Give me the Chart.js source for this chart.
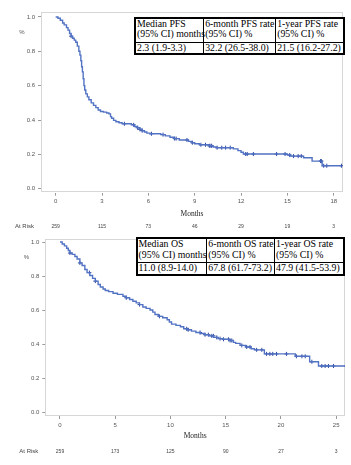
<!DOCTYPE html>
<html><head><meta charset="utf-8">
<script src="https://cdn.jsdelivr.net/npm/chart.js@4/dist/chart.umd.min.js"></script>
<style>
html,body{margin:0;padding:0;background:#fff;}
#wrap{position:relative;width:351px;height:465px;overflow:hidden;background:#fff;}
canvas{position:absolute;left:0;}
table.km{position:absolute;border-collapse:collapse;table-layout:fixed;font-family:"Liberation Serif","Times New Roman",serif;font-size:9.8px;line-height:10.5px;color:#000;background:#fff;border:2px solid #000;}
table.km td{border:1px solid #000;padding:0 0 0 1px;white-space:nowrap;overflow:visible;vertical-align:top;}
</style></head>
<body>
<div id="wrap">
  <canvas id="pfs" width="351" height="232" style="top:0"></canvas>
  <canvas id="os" width="351" height="233" style="top:232px"></canvas>
</div>
<script>
// ---------- Data ----------
const yTicks = [0, 0.2, 0.4, 0.6, 0.8, 1.0];

const pfsTicks = [0, 3, 6, 9, 12, 15, 18];
const pfsAtRisk = [259, 115, 73, 46, 29, 19, 3];
const pfsMonths = [0, 0.15, 0.3, 0.45, 0.55, 0.7, 0.8, 0.9, 1.0, 1.1, 1.2, 1.3, 1.4, 1.5, 1.57, 1.63, 1.68, 1.73, 1.78, 1.83, 1.88, 1.95, 2.05, 2.15, 2.3, 2.45, 2.6, 2.75, 2.9, 3.1, 3.3, 3.45, 3.55, 3.62, 3.75, 3.9, 4.1, 4.3, 4.9, 5.1, 5.3, 5.45, 5.6, 5.75, 5.9, 6.1, 6.8, 7.1, 7.4, 7.65, 8.0, 8.6, 8.8, 9.0, 9.3, 9.9, 10.2, 10.4, 11.5, 11.8, 12.0, 12.15, 15.0, 15.2, 16.05, 16.6, 17.25, 18.5];
const pfsSurvival = [1.0, 0.992, 0.981, 0.965, 0.954, 0.938, 0.923, 0.904, 0.888, 0.876, 0.865, 0.853, 0.83, 0.80, 0.778, 0.745, 0.71, 0.68, 0.64, 0.60, 0.575, 0.552, 0.535, 0.518, 0.50, 0.485, 0.472, 0.458, 0.450, 0.446, 0.441, 0.436, 0.42, 0.41, 0.398, 0.39, 0.384, 0.378, 0.372, 0.362, 0.355, 0.346, 0.338, 0.33, 0.324, 0.32, 0.315, 0.308, 0.30, 0.292, 0.284, 0.276, 0.268, 0.262, 0.256, 0.25, 0.243, 0.239, 0.232, 0.222, 0.212, 0.202, 0.196, 0.19, 0.18, 0.161, 0.134, 0.134];
const pfsCensorMonths = [1.0, 4.45, 5.05, 5.3, 5.45, 5.6, 6.2, 6.95, 7.7, 7.8, 8.5, 8.85, 9.4, 9.7, 9.95, 10.05, 10.1, 10.45, 10.75, 11.0, 11.3, 12.3, 12.4, 12.8, 14.3, 14.85, 15.15, 15.4, 15.7, 15.9, 17.15, 17.2, 17.35, 17.55, 18.5];
const pfsHeaders = ["Median PFS\n(95% CI) months", "6-month PFS rate\n(95% CI) %", "1-year PFS rate\n(95% CI) %"];
const pfsValues = ["2.3 (1.9-3.3)", "32.2 (26.5-38.0)", "21.5 (16.2-27.2)"];

const osTicks = [0, 5, 10, 15, 20, 25];
const osAtRisk = [259, 173, 125, 90, 27, 3];
const osMonths = [0, 0.2, 0.4, 0.6, 0.75, 0.9, 1.1, 1.35, 1.55, 1.8, 2.0, 2.25, 2.45, 2.7, 2.95, 3.2, 3.45, 3.65, 3.9, 4.1, 4.4, 4.8, 5.2, 5.7, 6.0, 6.3, 6.6, 6.9, 7.2, 7.5, 7.8, 8.15, 8.4, 8.6, 8.9, 9.3, 9.7, 9.9, 10.1, 10.5, 10.9, 11.2, 11.5, 11.9, 12.3, 12.7, 13.1, 13.5, 13.9, 14.3, 14.8, 15.3, 15.7, 15.9, 16.3, 16.8, 17.3, 17.6, 18.5, 21.3, 22.6, 23.4, 25.9];
const osSurvival = [1.0, 0.988, 0.977, 0.963, 0.95, 0.935, 0.927, 0.915, 0.9, 0.877, 0.862, 0.838, 0.82, 0.803, 0.786, 0.77, 0.75, 0.735, 0.724, 0.715, 0.708, 0.699, 0.692, 0.681, 0.672, 0.662, 0.652, 0.642, 0.632, 0.618, 0.61, 0.6, 0.588, 0.574, 0.563, 0.555, 0.543, 0.53, 0.517, 0.51, 0.502, 0.49, 0.484, 0.476, 0.468, 0.462, 0.455, 0.448, 0.439, 0.432, 0.428, 0.421, 0.41, 0.404, 0.392, 0.383, 0.372, 0.366, 0.342, 0.328, 0.296, 0.271, 0.271];
const osCensorMonths = [0.9, 1.8, 2.66, 3.2, 6.0, 7.2, 9.0, 11.47, 11.6, 12.68, 13.13, 13.43, 13.74, 13.89, 14.19, 14.49, 14.8, 15.25, 15.4, 15.55, 16.46, 16.9, 17.2, 17.8, 18.27, 18.7, 19.0, 19.26, 19.6, 20.5, 21.4, 21.9, 22.2, 22.8, 23.7, 24.0, 24.3, 24.76, 25.88];
const osHeaders = ["Median OS\n(95% CI) months", "6-month OS rate\n(95% CI) %", "1-year OS rate\n(95% CI) %"];
const osValues = ["11.0 (8.9-14.0)", "67.8 (61.7-73.2)", "47.9 (41.5-53.9)"];

// ---------- Helpers ----------
function stepValue(times, vals, t) {
  let v = vals[0];
  for (let i = 0; i < times.length; i++) { if (times[i] <= t) v = vals[i]; else break; }
  return v;
}
const LINE = '#5273c4', MARK = '#2a46a0';
const SANS = '"Liberation Sans", Arial, sans-serif';
const SERIF = '"Liberation Serif", "Times New Roman", serif';

const kmDecor = {
  id: 'kmDecor',
  beforeDatasetsDraw(chart, args, o) {
    const {ctx, chartArea: a} = chart;
    ctx.save();
    ctx.strokeStyle = '#d6d6d6'; ctx.lineWidth = 1;
    ctx.strokeRect(Math.round(a.left) + 0.5, Math.round(a.top) + 0.5, Math.round(a.width) - 1, Math.round(a.height) - 1);
    ctx.restore();
  },
  afterDraw(chart, args, o) {
    const {ctx, chartArea: a, scales: {x}} = chart;
    ctx.save();
    ctx.fillStyle = '#555';
    ctx.font = '6px ' + SANS;
    ctx.textAlign = 'center'; ctx.textBaseline = 'middle';
    ctx.fillText('%', a.left - 19, a.top + o.pctOffset);
    ctx.fillStyle = '#222';
    ctx.font = '7.5px ' + SERIF;
    ctx.fillText('Months', (a.left + a.right) / 2, a.bottom + o.titleOffset);
    ctx.fillStyle = '#444';
    ctx.font = '6px ' + SANS;
    ctx.textAlign = 'left';
    ctx.fillText('At Risk', a.left - 26, a.bottom + o.riskOffset);
    ctx.textAlign = 'center';
    ctx.font = '5px ' + SANS;
    o.ticks.forEach((t, i) => ctx.fillText(String(o.atRisk[i]), x.getPixelForValue(t), a.bottom + o.riskOffset));
    ctx.restore();
  }
};

function makeChart(id, months, surv, censor, ticks, atRisk, xMin, xMax, yMax, dims) {
  const line = months.map((m, i) => ({x: m, y: surv[i]}));
  const marks = censor.map(t => ({x: t, y: stepValue(months, surv, t)}));
  const tickFont = {size: 6, family: SANS};
  return new Chart(document.getElementById(id), {
    type: 'line',
    data: {datasets: [
      {data: line, borderColor: LINE, borderWidth: 1.4, pointRadius: 0, stepped: 'before', tension: 0, fill: false},
      {data: marks, showLine: false, pointStyle: 'cross', pointRadius: 2, pointBorderWidth: 1, borderColor: MARK, backgroundColor: MARK}
    ]},
    options: {
      responsive: false, animation: false,
      layout: {padding: {left: 0, right: dims.right, top: dims.top, bottom: 0}},
      plugins: {legend: {display: false}, tooltip: {enabled: false},
        kmDecor: {ticks: ticks, atRisk: atRisk, pctOffset: dims.pct, titleOffset: dims.title, riskOffset: dims.risk}},
      scales: {
        x: {type: 'linear', min: xMin, max: xMax,
          afterBuildTicks: s => { s.ticks = ticks.map(v => ({value: v})); },
          afterFit: s => { s.height = dims.xh; },
          border: {display: false},
          grid: {drawOnChartArea: false, drawTicks: true, tickLength: 3, color: '#9a9a9a'},
          ticks: {font: tickFont, color: '#555', padding: 2.5, maxRotation: 0, autoSkip: false}},
        y: {type: 'linear', min: -0.023, max: yMax,
          afterBuildTicks: s => { s.ticks = yTicks.map(v => ({value: v})); },
          afterFit: s => { s.width = dims.yw; },
          border: {display: false},
          grid: {drawOnChartArea: false, drawTicks: true, tickLength: 3, color: '#9a9a9a'},
          ticks: {font: tickFont, color: '#555', padding: 3, callback: v => v.toFixed(1)}}
      }
    },
    plugins: [kmDecor]
  });
}

makeChart('pfs', pfsMonths, pfsSurvival, pfsCensorMonths, pfsTicks, pfsAtRisk, -0.95, 18.6, 1.027,
  {right: 8, top: 12.3, yw: 41, xh: 39.3, pct: 20.5, title: 21.3, risk: 34});
makeChart('os', osMonths, osSurvival, osCensorMonths, osTicks, osAtRisk, -1.33, 25.8, 1.02,
  {right: 6, top: 3, yw: 45.3, xh: 49, pct: 19, title: 20, risk: 35.7});

// ---------- Tables ----------
function makeTable(headers, values, left, top, widths, h1, h2) {
  const t = document.createElement('table');
  t.className = 'km';
  t.style.left = left + 'px'; t.style.top = top + 'px';
  t.style.width = widths.reduce((s, w) => s + w, 0) + 'px';
  const cg = document.createElement('colgroup');
  widths.forEach(w => { const c = document.createElement('col'); c.style.width = w + 'px'; cg.appendChild(c); });
  t.appendChild(cg);
  const r1 = t.insertRow(); r1.style.height = h1 + 'px';
  headers.forEach(h => { const c = r1.insertCell(); c.innerHTML = h.split('\n').map(s => s.replace(/&/g,'&amp;').replace(/</g,'&lt;')).join('<br>'); });
  const r2 = t.insertRow(); r2.style.height = h2 + 'px';
  values.forEach(v => { const c = r2.insertCell(); c.textContent = v; });
  document.getElementById('wrap').appendChild(t);
}
makeTable(pfsHeaders, pfsValues, 134, 16.5, [68.7, 72, 68.7], 24.7, 10.3);
makeTable(osHeaders, osValues, 135.5, 237.2, [70.3, 67.7, 69.6], 24, 13.3);
</script>
</body></html>
